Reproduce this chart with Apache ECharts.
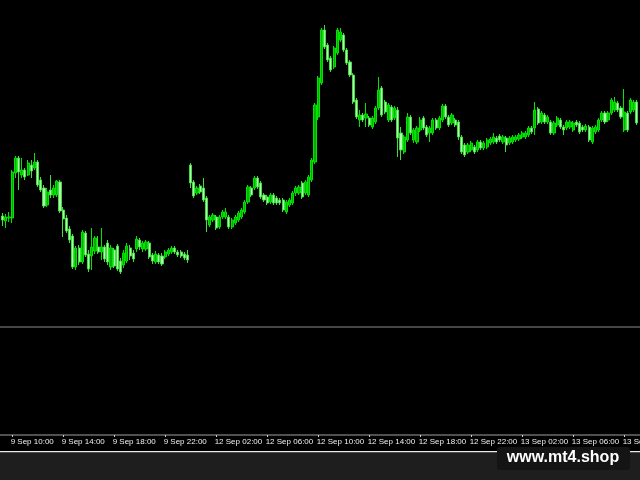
<!DOCTYPE html>
<html>
<head>
<meta charset="utf-8">
<script src="https://cdn.jsdelivr.net/npm/echarts@6/dist/echarts.min.js"></script>
<style>
html,body{margin:0;padding:0;background:#000;}
#chart{width:640px;height:480px;}
</style>
</head>
<body>
<div id="chart"></div>
<script>
// M15 candles, 9 Sep 09:15 .. 13 Sep 11:00 (weekend gap after index 58)
var tickLabels = ['9 Sep 10:00','9 Sep 14:00','9 Sep 18:00','9 Sep 22:00','12 Sep 02:00','12 Sep 06:00','12 Sep 10:00','12 Sep 14:00','12 Sep 18:00','12 Sep 22:00','13 Sep 02:00','13 Sep 06:00','13 Sep 10:00'];

var opens = [
114,109,112,112,157,172,155,160,155,165,
162,168,150,142,125,140,135,135,148,120,
112,101,94,63,82,68,97,76,74,79,
83,78,83,87,63,80,84,69,65,69,
82,77,81,90,81,81,87,75,68,75,
74,73,76,78,82,78,78,76,75,165,
148,137,144,142,132,105,110,113,103,113,
113,113,103,107,110,113,118,128,142,142,
152,147,135,133,128,135,132,130,130,118,
125,127,137,137,147,137,135,150,168,213,
247,300,285,272,263,277,290,295,280,268,
255,230,210,215,212,212,203,208,222,242,
228,210,223,212,220,197,178,190,213,190,
188,200,212,203,197,197,210,202,210,224,
213,207,210,208,193,185,178,180,183,180,
188,182,183,187,188,192,194,188,192,187,
188,190,191,193,193,195,202,202,221,208,
215,208,208,197,205,210,203,202,203,200,
208,207,203,200,203,188,198,200,210,217,
210,217,220,227,222,200,217,218,220,228];

var closes = [
110,113,113,158,172,158,160,153,167,159,
168,145,140,124,138,135,142,149,119,111,
99,90,63,82,68,98,75,61,83,92,
78,83,71,68,82,64,61,58,77,84,
74,71,91,83,87,88,73,69,76,68,
66,78,80,82,78,75,74,72,70,147,
134,142,138,130,110,113,115,102,113,118,
118,103,110,113,117,120,128,143,135,152,
143,133,130,127,135,127,127,127,120,128,
130,137,142,143,133,148,153,170,225,252,
300,283,270,260,282,300,298,280,267,255,
228,213,215,210,216,205,212,222,240,215,
218,225,210,222,192,180,193,213,197,200,
202,210,202,195,202,210,202,212,224,213,
205,215,205,193,178,175,185,187,178,188,
182,187,190,191,193,188,190,193,185,192,
193,193,195,197,197,202,198,220,207,217,
208,213,197,207,212,203,200,208,208,207,
205,198,200,204,190,202,203,210,217,208,
217,230,228,220,213,218,200,230,228,207];

var lows = [
104,102,108,107,152,140,152,150,154,152,
160,143,138,122,123,132,132,133,117,93,
97,87,61,60,65,66,73,58,60,76,
76,70,68,65,60,62,59,56,62,67,
70,68,78,80,78,79,71,66,66,66,
64,71,74,76,76,73,72,70,67,142,
132,135,136,128,98,103,108,100,101,111,
111,101,101,105,108,111,116,126,133,140,
141,131,128,125,126,125,125,125,118,116,
123,125,134,135,131,135,133,148,166,210,
245,281,268,258,261,275,288,278,265,253,
226,211,203,208,203,203,201,206,220,213,
216,208,208,210,173,170,176,188,195,187,
186,198,200,193,188,195,200,200,208,211,
203,205,203,190,176,173,176,178,176,178,
180,180,181,185,186,186,188,186,178,185,
186,188,189,191,191,193,196,195,205,206,
206,206,195,195,203,201,195,200,201,198,
203,196,198,198,188,186,196,198,208,206,
208,215,218,218,211,198,198,216,218,205];

var highs = [
117,116,118,160,174,174,172,162,170,170,
177,170,153,145,142,155,145,150,150,123,
115,104,96,84,85,100,99,80,102,94,
94,102,85,90,85,82,86,72,80,87,
85,80,94,92,89,90,89,77,79,77,
77,80,82,84,84,80,80,78,80,167,
150,144,146,152,134,115,117,115,115,120,
122,115,112,115,119,122,130,145,144,154,
154,149,137,135,137,137,134,132,132,130,
132,139,144,145,149,150,155,172,227,254,
302,305,287,274,284,302,302,297,282,270,
257,232,220,217,227,214,214,224,253,244,
230,227,225,224,223,203,195,217,215,202,
204,213,214,205,204,212,212,214,226,226,
215,217,212,210,195,187,187,189,185,190,
190,189,192,193,197,194,196,195,194,194,
195,195,197,199,199,204,204,228,223,219,
217,215,210,209,214,212,205,210,210,209,
210,209,205,206,205,204,205,212,219,219,
219,232,233,229,224,241,219,232,230,230];

// category times (15-minute bars, Friday then Monday/Tuesday)
var categories = [];
(function(){
  function pad(n){return (n<10?'0':'')+n;}
  for (var i = 0; i < opens.length; i++) {
    var day, mins;
    if (i < 59) { day = 9; mins = 9*60+15 + i*15; }
    else { mins = (i-59)*15; day = 12 + Math.floor(mins/1440); mins = mins % 1440; }
    categories.push(day + ' Sep ' + pad(Math.floor(mins/60)) + ':' + pad(mins%60));
  }
})();

var ohlc = opens.map(function(o, i){ return [o, closes[i], lows[i], highs[i]]; });

function isTick(idx){ return idx >= 3 && (idx - 3) % 16 === 0; }

var chart = echarts.init(document.getElementById('chart'), null, {renderer:'canvas'});
chart.setOption({
  backgroundColor: '#000000',
  animation: false,
  grid: [
    {left: 1, width: 637.5, top: 0, height: 327, outerBoundsMode: 'none', containLabel: false},
    {left: 1, width: 637.5, top: 328, height: 107, outerBoundsMode: 'none', containLabel: false}
  ],
  xAxis: [
    {type:'category', gridIndex:0, data: categories, boundaryGap: true,
     axisLine:{show:false}, axisTick:{show:false}, axisLabel:{show:false}, splitLine:{show:false}},
    {type:'category', gridIndex:1, data: categories, boundaryGap: true,
     axisLine:{show:false},
     axisTick:{show:true, alignWithLabel:true, interval: function(i){return isTick(i);}, length:2, lineStyle:{color:'#d0d0d0'}},
     axisLabel:{show:true, interval: function(i){return isTick(i);}, color:'#f0f0f0', fontSize:8,
       fontFamily:'Liberation Sans', align:'left', margin:3, padding:[0,0,0,-1.5], hideOverlap:false,
       formatter: function(v, i){ return tickLabels[(i-3)/16]; }},
     splitLine:{show:false}}
  ],
  yAxis: [
    {type:'value', gridIndex:0, min:3, max:330, show:false, splitLine:{show:false}},
    {type:'value', gridIndex:1, min:0, max:1, show:false, splitLine:{show:false}}
  ],
  series: [{
    type:'candlestick', xAxisIndex:0, yAxisIndex:0,
    data: ohlc,
    barWidth: 2.6,
    itemStyle: {color:'#00b000', color0:'#b4ffb4', borderColor:'#00e400', borderColor0:'#3ee03e', borderWidth:1}
  }],
  graphic: [
    {type:'rect', shape:{x:0, y:326.5, width:640, height:1}, style:{fill:'#8c8c8c'}, silent:true},
    {type:'rect', shape:{x:0, y:434.5, width:640, height:1}, style:{fill:'#a0a0a0'}, silent:true},
    {type:'rect', shape:{x:0, y:452, width:640, height:28}, style:{fill:'#1e1e1e'}, silent:true},
    {type:'rect', shape:{x:0, y:451, width:640, height:1.2}, style:{fill:'#e8e8e8'}, silent:true},
    {type:'rect', shape:{x:497, y:447, width:133, height:23, r:3}, style:{fill:'#141414'}, silent:true},
    {type:'text', x:563, y:458, style:{text:'www.mt4.shop', fill:'#ffffff', font:'bold 16px "Liberation Sans", Arial, sans-serif', align:'center', verticalAlign:'middle'}, silent:true}
  ]
});
</script>
</body>
</html>
